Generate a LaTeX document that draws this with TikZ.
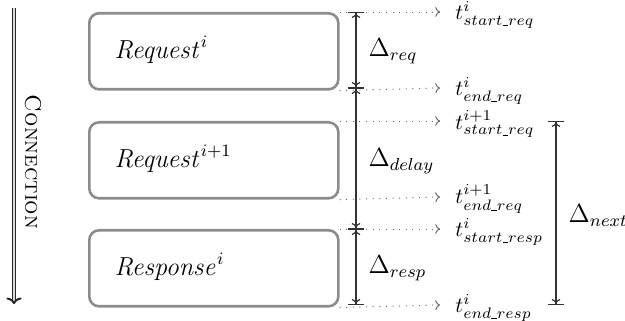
\documentclass[tikz,border=0pt]{standalone}
\usetikzlibrary{arrows.meta}
\newcommand{\usc}{\mbox{\rule[-0.3pt]{2.6pt}{0.35pt}}}
\begin{document}
\begin{tikzpicture}[x=0.4608pt,y=-0.4608pt,
  phase/.style={draw=black!45,line width=1.2pt,rounded corners=4.5pt,minimum width=249*0.4608pt,minimum height=76*0.4608pt,anchor=north west,inner sep=0pt},
  tick/.style={draw=black!60,line width=0.45pt,dash pattern=on 0.45pt off 2.6pt,arrows={-To[length=2.2pt,width=4.5pt]}},
  span/.style={draw=black!80,line width=0.55pt,arrows={Bar[width=7pt] To[length=2.2pt,width=4pt]-To[length=2.2pt,width=4pt] Bar[width=7pt]}},
  dlab/.style={anchor=west,font=\large},
  blab/.style={anchor=west,font=\large},
  tlab/.style={anchor=west,inner sep=0pt}]
\useasboundingbox (0,0) rectangle (625,321);
% boxes
\node[phase] (b1) at (88,12) {};
\node[phase] (b2) at (88,121) {};
\node[phase] (b3) at (88,229) {};
\node[blab] at (107,50) {$\mathit{Request}^{i}$};
\node[blab] at (107,159) {$\mathit{Request}^{i+1}$};
\node[blab] at (107,267) {$\mathit{Response}^{i}$};
% tick coordinates
\coordinate (e1) at (440,12);
\coordinate (e2) at (440,88);
\coordinate (e3) at (440,121);
\coordinate (e4) at (440,197);
\coordinate (e5) at (440,229);
\coordinate (e6) at (440,305);
\draw[tick] (b1.north east) -- (e1);
\draw[tick] (b1.south east) -- (e2);
\draw[tick] (b2.north east) -- (e3);
\draw[tick] (b2.south east) -- (e4);
\draw[tick] (b3.north east) -- (e5);
\draw[tick] (b3.south east) -- (e6);
\node[tlab] at (455,15) {$t^{i}_{start\usc req}$};
\node[tlab] at (455,91) {$t^{i}_{end\usc req}$};
\node[tlab] at (455,124) {$t^{i+1}_{start\usc req}$};
\node[tlab] at (455,199) {$t^{i+1}_{end\usc req}$};
\node[tlab] at (455,232) {$t^{i}_{start\usc resp}$};
\node[tlab] at (455,308) {$t^{i}_{end\usc resp}$};
% spans
\coordinate (s1) at (356,12);
\coordinate (s2) at (356,88);
\coordinate (s5) at (356,229);
\coordinate (s6) at (356,305);
\coordinate (n3) at (556,121);
\coordinate (n6) at (556,305);
\draw[span] (s1) -- (s2);
\draw[span] (s2) -- (s5);
\draw[span] (s5) -- (s6);
\draw[span] (n3) -- (n6);
\node[dlab] at (361,51) {$\Delta_{req}$};
\node[dlab] at (361,161) {$\Delta_{delay}$};
\node[dlab] at (361,268) {$\Delta_{resp}$};
\node[dlab] at (561,216) {$\Delta_{next}$};
% connection arrow
\coordinate (c1) at (14,8);
\coordinate (c2) at (14,304);
\draw[black!85,double=black!15,double distance=0.5pt,line width=0.45pt,arrows={-To[length=3pt,width=7pt,line width=0.9pt]}] (c1) -- (c2);
\node[rotate=-90,scale=1.04] (conn) at (33,162) {\textsc{Connection}};
\end{tikzpicture}
\end{document}
